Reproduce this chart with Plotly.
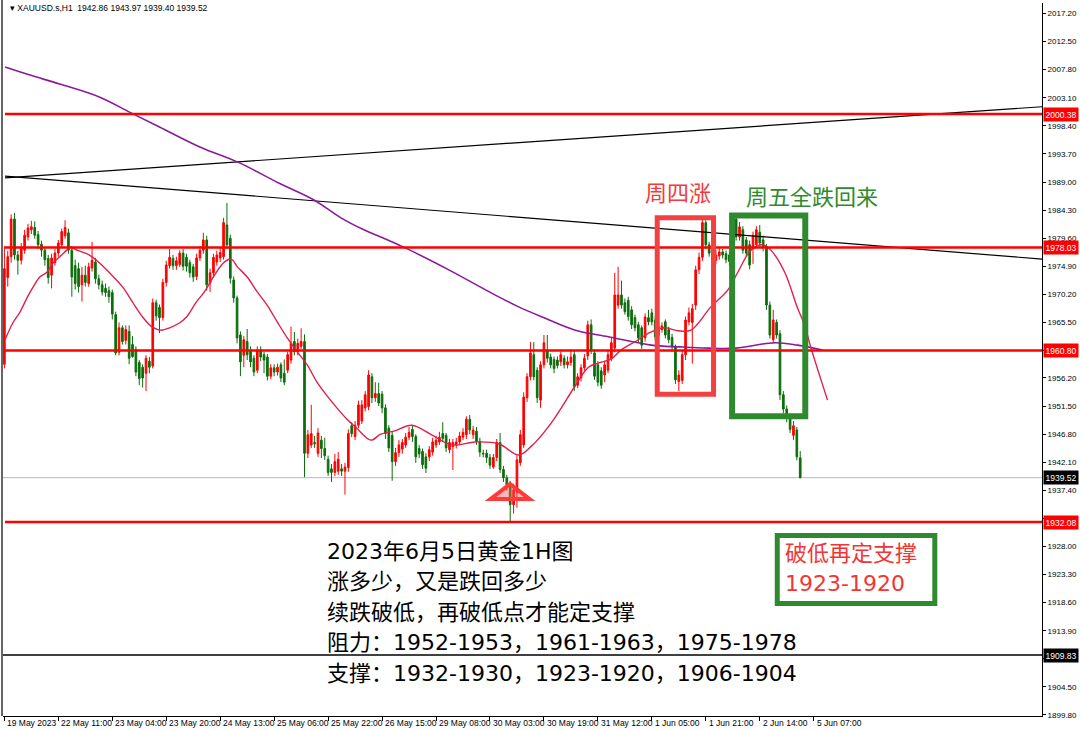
import plotly.graph_objects as go

# ---------------- data ----------------
opens = [1958.5,1973.0,1976.5,1982.8,1976.8,1975.9,1977.6,1979.8,1981.0,1981.4,
1980.2,1978.6,1977.6,1976.2,1973.4,1975.5,1977.1,1978.5,1980.0,1980.5,
1977.6,1975.0,1974.5,1971.8,1973.4,1972.0,1974.6,1975.6,1972.8,1971.8,
1971.2,1970.8,1970.5,1966.8,1960.5,1964.6,1962.5,1964.0,1961.8,1961.0,
1958.8,1958.0,1957.0,1959.0,1958.2,1968.8,1968.0,1966.3,1972.2,1975.0,
1976.2,1975.0,1975.2,1977.1,1976.4,1975.5,1974.8,1973.2,1976.3,1977.6,
1979.3,1972.1,1973.8,1975.6,1976.3,1976.5,1981.8,1979.6,1972.6,1969.6,
1963.4,1960.0,1962.3,1960.9,1959.5,1957.5,1960.9,1960.1,1959.7,1956.5,
1957.9,1957.2,1958.4,1957.0,1957.5,1959.2,1962.3,1960.6,1961.5,1962.3,
1943.6,1945.0,1945.4,1943.6,1945.8,1944.4,1942.6,1941.0,1940.4,1940.6,
1941.0,1940.6,1941.2,1948.2,1946.4,1948.3,1949.0,1951.2,1951.4,1956.4,
1952.9,1953.6,1953.5,1951.2,1947.8,1946.6,1942.2,1943.7,1944.3,1945.0,
1946.3,1947.6,1946.4,1944.4,1943.9,1943.0,1943.0,1943.8,1945.0,1945.5,
1946.9,1946.6,1944.2,1944.7,1945.0,1945.5,1946.3,1946.7,1949.3,1946.7,
1947.3,1945.6,1943.6,1943.6,1942.9,1941.3,1942.9,1945.4,1940.9,1939.5,
1938.5,1935.0,1937.0,1942.0,1945.0,1952.9,1956.4,1960.1,1957.5,1952.5,
1958.4,1960.9,1959.7,1959.3,1959.2,1958.9,1959.5,1958.4,1958.8,1960.1,
1955.0,1956.2,1957.9,1959.9,1965.1,1960.4,1958.4,1957.4,1956.7,1957.5,
1959.5,1961.2,1968.4,1970.1,1968.8,1969.2,1967.6,1966.3,1965.1,1964.6,
1962.9,1966.3,1967.1,1965.9,1963.4,1964.3,1965.6,1964.3,1963.0,1961.4,
1955.6,1955.8,1960.1,1965.6,1965.5,1968.4,1974.3,1976.4,1982.2,1978.5,
1977.6,1975.9,1976.6,1977.3,1977.0,1976.8,1978.6,1982.8,1979.8,1981.0,
1979.3,1978.5,1977.9,1978.5,1980.6,1979.3,1978.1,1968.4,1962.6,1965.5,
1963.6,1953.4,1951.0,1949.6,1946.6,1947.5,1942.86]
highs = [1978.3,1977.5,1983.6,1983.8,1977.5,1978.8,1981.0,1982.0,1982.5,1982.4,
1980.8,1979.2,1978.0,1976.8,1977.0,1977.8,1979.3,1981.2,1982.6,1981.2,
1978.3,1976.0,1975.5,1974.8,1975.0,1975.5,1979.0,1976.3,1973.5,1972.5,
1972.0,1971.5,1971.0,1967.3,1965.5,1965.0,1965.0,1965.0,1963.2,1961.5,
1959.2,1958.5,1960.0,1959.7,1969.5,1969.3,1968.5,1972.8,1975.8,1977.8,
1976.8,1976.5,1977.6,1977.8,1977.0,1976.0,1975.3,1977.0,1978.3,1980.5,
1980.0,1974.5,1977.0,1977.5,1978.0,1983.0,1985.5,1980.2,1973.2,1970.0,
1964.0,1963.2,1964.4,1961.5,1960.0,1961.5,1961.5,1960.6,1960.2,1958.5,
1958.5,1958.6,1958.8,1959.3,1960.6,1964.8,1963.9,1962.8,1964.5,1963.5,
1947.5,1951.7,1946.5,1947.8,1946.5,1946.2,1943.2,1941.8,1943.5,1943.8,
1941.8,1942.0,1947.6,1948.8,1949.0,1952.4,1952.5,1954.0,1957.5,1957.0,
1955.5,1955.4,1954.0,1951.8,1948.3,1947.2,1944.5,1945.8,1946.0,1947.0,
1948.0,1948.2,1946.8,1945.0,1944.4,1943.6,1944.8,1946.2,1946.5,1947.2,
1948.8,1947.0,1946.0,1946.0,1946.2,1947.2,1947.8,1949.8,1950.0,1948.2,
1948.0,1946.2,1944.2,1944.2,1943.5,1943.5,1946.0,1947.0,1941.5,1940.0,
1939.0,1938.5,1943.2,1947.5,1953.8,1957.0,1962.2,1962.2,1958.0,1959.0,
1963.4,1963.4,1960.3,1959.8,1959.8,1960.6,1960.0,1959.8,1961.0,1960.8,
1957.0,1958.5,1960.2,1965.8,1966.0,1961.0,1959.0,1958.0,1959.0,1960.8,
1963.0,1973.8,1974.8,1972.5,1969.5,1969.8,1968.2,1966.8,1965.6,1965.0,
1967.0,1967.6,1967.8,1966.5,1965.5,1965.5,1966.0,1964.8,1963.6,1961.8,
1957.5,1960.8,1966.5,1968.0,1968.6,1975.0,1977.2,1983.0,1982.6,1979.0,
1978.2,1977.6,1978.0,1977.8,1977.5,1977.3,1983.3,1983.4,1982.3,1981.6,
1979.8,1979.2,1980.7,1981.6,1981.8,1980.0,1978.6,1969.0,1967.6,1966.0,
1964.2,1954.0,1951.6,1950.2,1949.0,1948.0,1943.97]
lows = [1957.8,1971.5,1975.5,1976.0,1973.5,1975.2,1977.0,1979.2,1980.3,1979.5,
1977.8,1976.5,1975.0,1972.0,1971.2,1975.0,1976.5,1978.0,1979.5,1977.0,
1969.8,1971.0,1970.5,1969.0,1971.5,1971.5,1974.0,1972.0,1971.0,1970.0,
1969.8,1968.8,1966.0,1960.0,1960.0,1961.8,1961.8,1958.5,1959.6,1956.5,
1955.0,1954.6,1954.0,1957.0,1957.8,1965.8,1963.7,1965.8,1971.5,1974.5,
1974.3,1974.3,1974.8,1974.2,1974.0,1973.0,1972.3,1972.6,1975.8,1977.0,
1970.8,1970.6,1973.0,1975.0,1975.6,1976.0,1977.8,1972.0,1968.8,1962.0,
1956.5,1958.0,1959.2,1958.0,1956.5,1957.0,1959.0,1957.0,1955.8,1956.0,
1956.5,1956.6,1955.5,1955.0,1957.0,1958.6,1960.0,1960.0,1961.0,1939.6,
1942.8,1944.5,1944.5,1943.0,1942.8,1942.5,1939.8,1938.8,1939.8,1940.0,
1939.8,1936.7,1940.5,1946.3,1945.8,1947.8,1948.5,1950.6,1950.8,1952.0,
1952.2,1951.5,1950.3,1946.0,1943.8,1939.0,1941.5,1943.0,1943.5,1944.5,
1945.8,1945.5,1942.0,1942.8,1941.0,1940.3,1942.3,1943.2,1944.5,1945.0,
1945.5,1943.8,1943.6,1940.8,1944.4,1945.0,1945.8,1946.0,1946.8,1946.0,
1945.0,1943.0,1942.9,1942.0,1941.0,1941.0,1942.3,1940.3,1938.8,1937.3,
1932.2,1933.5,1934.5,1941.5,1944.5,1952.2,1955.8,1955.8,1952.0,1951.2,
1957.8,1958.8,1957.8,1957.0,1957.8,1958.2,1957.8,1957.8,1958.2,1954.0,
1954.5,1955.6,1957.4,1959.2,1960.2,1955.9,1954.8,1954.4,1955.5,1957.0,
1959.0,1960.5,1967.8,1967.8,1966.8,1965.8,1964.4,1964.0,1962.2,1961.0,
1962.3,1965.0,1965.0,1962.5,1962.8,1963.8,1962.8,1962.0,1960.6,1955.2,
1954.0,1955.2,1959.2,1965.0,1958.6,1967.6,1973.6,1975.8,1977.8,1976.5,
1975.2,1975.3,1976.0,1976.2,1975.4,1975.0,1978.0,1979.2,1979.2,1977.0,
1976.5,1974.4,1975.3,1978.0,1978.2,1977.4,1967.6,1962.8,1962.0,1962.8,
1952.5,1950.3,1948.8,1947.0,1945.8,1942.4,1939.40]
closes = [1974.5,1976.5,1982.8,1976.8,1975.9,1978.0,1980.1,1981.3,1981.5,1980.1,
1978.5,1977.6,1976.0,1973.0,1976.3,1977.1,1978.8,1980.7,1981.4,1977.6,
1973.1,1972.0,1971.5,1973.4,1972.2,1974.8,1975.9,1972.8,1971.8,1970.6,
1970.5,1969.8,1966.9,1960.4,1964.6,1962.3,1964.3,1959.5,1959.8,1957.2,
1956.1,1956.2,1959.5,1958.0,1968.8,1966.6,1966.3,1972.2,1975.1,1976.4,
1975.0,1975.8,1977.1,1974.9,1974.9,1973.8,1973.1,1976.3,1977.6,1979.3,
1971.8,1973.8,1976.4,1976.8,1977.2,1982.2,1978.5,1972.9,1969.6,1962.9,
1958.9,1962.6,1960.1,1958.9,1957.2,1960.9,1959.7,1959.2,1956.5,1957.9,
1957.2,1958.0,1956.2,1955.5,1960.1,1962.0,1960.6,1962.0,1962.3,1943.6,
1946.7,1946.9,1945.2,1947.0,1944.4,1943.2,1940.4,1940.4,1942.2,1942.6,
1940.6,1941.3,1946.9,1946.9,1948.3,1951.7,1951.7,1953.4,1956.7,1952.9,
1953.6,1952.0,1951.2,1946.9,1944.5,1942.2,1943.7,1945.0,1945.4,1946.3,
1947.1,1946.4,1943.0,1943.5,1941.7,1941.1,1944.2,1945.5,1945.8,1946.3,
1946.1,1944.5,1945.4,1945.4,1945.5,1946.5,1947.1,1949.3,1947.5,1947.5,
1945.6,1943.8,1943.5,1942.9,1941.6,1942.9,1945.4,1940.9,1939.5,1938.0,
1935.0,1937.5,1942.5,1946.7,1953.0,1956.4,1960.4,1956.4,1952.9,1958.4,
1962.1,1959.5,1958.4,1957.8,1958.3,1960.1,1958.4,1958.9,1959.7,1954.8,
1956.4,1957.9,1959.5,1965.1,1960.9,1956.5,1955.5,1955.0,1958.4,1960.1,
1962.1,1970.1,1970.1,1968.4,1967.3,1966.5,1965.1,1964.6,1962.9,1961.7,
1966.4,1965.6,1965.6,1963.1,1964.8,1964.9,1963.4,1962.6,1961.4,1955.9,
1956.7,1960.1,1965.9,1967.1,1967.8,1974.3,1976.4,1982.2,1978.5,1977.1,
1975.9,1976.8,1977.3,1976.8,1976.0,1975.7,1982.8,1979.8,1981.5,1977.6,
1977.1,1975.1,1980.1,1981.0,1978.8,1978.0,1968.4,1963.4,1965.9,1963.4,
1953.4,1951.0,1949.6,1947.6,1948.2,1943.0,1939.52]

time_labels = ["19 May 2023", "22 May 11:00", "23 May 04:00", "23 May 20:00",
               "24 May 13:00", "25 May 06:00", "25 May 22:00", "26 May 15:00",
               "29 May 08:00", "30 May 03:00", "30 May 19:00", "31 May 12:00",
               "1 Jun 05:00", "1 Jun 21:00", "2 Jun 14:00", "5 Jun 07:00"]
time_label_bars = [0, 16, 32, 48, 64, 80, 96, 112, 128, 144, 160, 176, 192, 208, 224, 240]

price_ticks = [2017.20, 2012.50, 2007.80, 2003.10, 1998.40, 1993.70, 1989.00, 1984.30,
               1979.60, 1974.90, 1970.20, 1965.50, 1960.80, 1956.20, 1951.50, 1946.80,
               1942.10, 1937.40, 1932.70, 1928.00, 1923.30, 1918.60, 1913.90, 1909.20,
               1904.50, 1899.80]

# fast (crimson) moving average, read at sample points
ma_fast_x = [0.2, 2.5, 4.6, 6.7, 8.5, 10.5, 12.6, 14.4, 16.4, 18.5, 19.4, 21.5, 24.4, 25.9,
             28.3, 31.2, 35.1, 38.0, 41.0, 43.9, 46.6, 49.0, 51.9, 54.0, 56.9, 59.3, 62.3,
             65.2, 67.3, 69.1, 72.0, 75.0, 77.9, 80.9, 83.9, 86.8, 89.8, 92.7, 95.7, 98.6,
             101.6, 104.5, 108.7, 111.6, 115.5, 120.8, 126.7, 132.6, 139.7, 146.6, 152.5,
             156.3, 162.2, 169.3, 173.2, 176.1, 180.0, 182.9, 188.0, 191.8, 195.9, 199.8,
             203.6, 209.5, 214.5, 217.5, 221.4, 224.9, 227.3, 231.4, 235.2, 237.3, 239.1, 244.1]
ma_fast_y = [1962.6, 1965.4, 1967.2, 1969.6, 1971.4, 1973.1, 1973.9, 1975.4, 1976.5, 1977.6,
             1978.1, 1977.6, 1977.0, 1976.5, 1975.4, 1973.8, 1971.4, 1968.9, 1966.4, 1964.7,
             1964.2, 1964.6, 1965.4, 1966.4, 1968.9, 1970.6, 1973.4, 1975.6, 1976.1, 1974.8,
             1973.1, 1970.6, 1968.4, 1965.6, 1962.9, 1960.6, 1958.4, 1955.5, 1953.2, 1951.2,
             1949.3, 1947.8, 1945.8, 1946.8, 1947.3, 1948.3, 1946.7, 1945.0, 1945.5, 1945.2,
             1943.3, 1944.8, 1948.7, 1954.9, 1958.0, 1958.7, 1959.4, 1960.9, 1962.6, 1963.9,
             1964.6, 1964.1, 1964.2, 1968.1, 1970.9, 1973.9, 1977.6, 1978.5, 1977.6, 1973.9,
             1967.9, 1965.1, 1961.4, 1952.5]

# slow (purple) moving average
ma_slow_x = [0.2, 7.6, 16.4, 28.3, 37.1, 46.0, 57.8, 69.7, 81.5, 91.8, 99.8, 106.6, 111.6,
             118.4, 131.8, 144.5, 152.5, 160.4, 169.3, 179.1, 191.8, 200.4, 208.6, 216.9,
             228.4, 235.2, 242.6]
ma_slow_y = [2008.25, 2006.9, 2005.4, 2003.2, 2000.7, 1998.2, 1994.9, 1992.2, 1988.8, 1986.0,
             1983.0, 1981.0, 1979.8, 1978.1, 1974.3, 1970.4, 1968.1, 1966.2, 1964.2, 1963.1,
             1961.7, 1961.4, 1961.2, 1961.2, 1962.1, 1961.7, 1960.9]

trend_up_x = [0.2, 307.7]
trend_up_y = [1989.7, 2001.6]
trend_down_x = [0.2, 307.7]
trend_down_y = [1990.0, 1976.1]

red_levels = [2000.38, 1978.03, 1960.80, 1932.08]
black_level = 1909.83
bid_price = 1939.52

# annotated boxes in data units (bar index, price)
thu_box = [193.6, 210.3, 1953.5, 1983.0]
fri_box = [215.8, 237.5, 1949.8, 1983.4]

# ---------------- figure ----------------
W, H = 1080, 730
ML, MR, MT, MB = 3, 35, 3, 14
PW, PH = W - ML - MR, H - MT - MB


def px(x):
    return (x - ML) / PW


def py(y):
    return (H - MB - y) / PH


fig = go.Figure()

fig.add_trace(go.Scatter(x=trend_up_x, y=trend_up_y, mode="lines",
                         line=dict(color="black", width=1.2), hoverinfo="skip"))
fig.add_trace(go.Scatter(x=trend_down_x, y=trend_down_y, mode="lines",
                         line=dict(color="black", width=1.2), hoverinfo="skip"))

fig.add_trace(go.Candlestick(
    x=list(range(len(opens))), open=opens, high=highs, low=lows, close=closes,
    increasing=dict(line=dict(color="#ff0000", width=1), fillcolor="#ff0000"),
    decreasing=dict(line=dict(color="#0b6e0b", width=1), fillcolor="#0b6e0b"),
    whiskerwidth=0, hoverinfo="skip"))

fig.add_trace(go.Scatter(x=ma_slow_x, y=ma_slow_y, mode="lines", line_shape="spline",
                         line=dict(color="#8b1a9b", width=1.6), hoverinfo="skip"))
fig.add_trace(go.Scatter(x=ma_fast_x, y=ma_fast_y, mode="lines", line_shape="spline",
                         line=dict(color="#e0204a", width=1.4), hoverinfo="skip"))

shapes = []
for lv in red_levels:
    shapes.append(dict(type="line", xref="paper", yref="y", x0=px(5), x1=1, y0=lv, y1=lv,
                       line=dict(color="#ff0000", width=2.5), layer="above"))
shapes.append(dict(type="line", xref="paper", yref="y", x0=0, x1=1, y0=black_level,
                   y1=black_level, line=dict(color="black", width=1.5)))
shapes.append(dict(type="line", xref="paper", yref="y", x0=0, x1=1, y0=bid_price,
                   y1=bid_price, line=dict(color="#b8b8b8", width=1), layer="below"))
# left border
shapes.append(dict(type="line", xref="paper", yref="paper", x0=px(2), x1=px(2), y0=0, y1=py(0),
                   line=dict(color="#333333", width=1.5)))
# annotated boxes
shapes.append(dict(type="rect", xref="x", yref="y", x0=thu_box[0], x1=thu_box[1],
                   y0=thu_box[2], y1=thu_box[3], line=dict(color="#f34040", width=5)))
shapes.append(dict(type="rect", xref="x", yref="y", x0=fri_box[0], x1=fri_box[1],
                   y0=fri_box[2], y1=fri_box[3], line=dict(color="#2f8a2f", width=6)))
shapes.append(dict(type="rect", xref="paper", yref="paper", x0=px(779.5), x1=px(937.5),
                   y0=py(603.5), y1=py(535.5), line=dict(color="#2f8a2f", width=5)))
# triangle marker at the low
shapes.append(dict(type="path", xref="paper", yref="paper",
                   path="M {0},{1} L {2},{3} L {4},{5} Z".format(px(492), py(499), px(531), py(499),
                                                                  px(511.5), py(484)),
                   line=dict(color="#ff3a3a", width=4), fillcolor="rgba(255,90,90,0.45)"))

annotations = []
for lab, b in zip(time_labels, time_label_bars):
    annotations.append(dict(x=b, xref="x", y=0, yref="paper", yshift=-7, xshift=1,
                            text=lab, showarrow=False, xanchor="left", yanchor="middle",
                            font=dict(family="Liberation Sans, Arial", size=8.5, color="black")))

tag_colors = {2000.38: "#ff0000", 1978.03: "#ff0000", 1960.80: "#ff0000",
              1932.08: "#ff0000", 1939.52: "#000000", 1909.83: "#000000"}
for p, c in tag_colors.items():
    annotations.append(dict(x=1, xref="paper", y=p, yref="y", xanchor="left", xshift=1,
                            yanchor="middle",
                            text="{:.2f}".format(p), showarrow=False, bgcolor=c, borderpad=1.5,
                            font=dict(family="Liberation Sans, Arial", size=8.5, color="white")))

annotations.append(dict(x=px(8), y=py(8), xref="paper", yref="paper", xanchor="left",
                        yanchor="middle", showarrow=False,
                        text="▾ XAUUSD.s,H1  1942.86 1943.97 1939.40 1939.52",
                        font=dict(family="Liberation Sans, Arial", size=8.5, color="black")))

cjk = "DejaVu Sans, Noto Sans CJK SC"
annotations.append(dict(x=px(680), y=py(193), xref="paper", yref="paper", showarrow=False,
                        xanchor="center", yanchor="middle",
                        text="周四涨", font=dict(family=cjk, size=22, color="#f23a3a")))
annotations.append(dict(x=px(814), y=py(197), xref="paper", yref="paper", showarrow=False,
                        xanchor="center", yanchor="middle",
                        text="周五全跌回来", font=dict(family=cjk, size=22, color="#2f8a2f")))

block = ["2023年6月5日黄金1H图", "涨多少，又是跌回多少", "续跌破低，再破低点才能定支撑",
         "阻力：1952-1953，1961-1963，1975-1978", "支撑：1932-1930，1923-1920，1906-1904"]
for i, line in enumerate(block):
    annotations.append(dict(x=px(326), y=py(551 + 30.5 * i), xref="paper", yref="paper",
                            xanchor="left", yanchor="middle", showarrow=False, text=line,
                            font=dict(family=cjk, size=22, color="black")))
for i, line in enumerate(["破低再定支撑", "1923-1920"]):
    annotations.append(dict(x=px(785), y=py(553 + 30 * i), xref="paper", yref="paper",
                            xanchor="left", yanchor="middle", showarrow=False, text=line,
                            font=dict(family=cjk, size=22, color="#f33535")))

fig.update_layout(
    width=W, height=H, margin=dict(l=ML, r=MR, t=MT, b=MB),
    paper_bgcolor="white", plot_bgcolor="white", showlegend=False,
    shapes=shapes, annotations=annotations,
    xaxis=dict(range=[-0.41, 307.7], rangeslider=dict(visible=False), showgrid=False,
               zeroline=False, showline=True, linecolor="black", linewidth=1,
               ticks="outside", ticklen=4, tickcolor="black", tickvals=time_label_bars,
               showticklabels=False, fixedrange=True),
    yaxis=dict(range=[1899.63, 2018.96], side="right", showgrid=False, zeroline=False,
               showline=True, linecolor="black", linewidth=1, ticks="outside", ticklen=3,
               tickcolor="black", tickvals=price_ticks,
               ticktext=["{:.2f}".format(v) for v in price_ticks],
               tickfont=dict(family="Liberation Sans, Arial", size=8, color="black"),
               fixedrange=True),
)

fig.write_html("out.html", config={"displayModeBar": False},
               post_script="document.body.style.margin='0px';")
